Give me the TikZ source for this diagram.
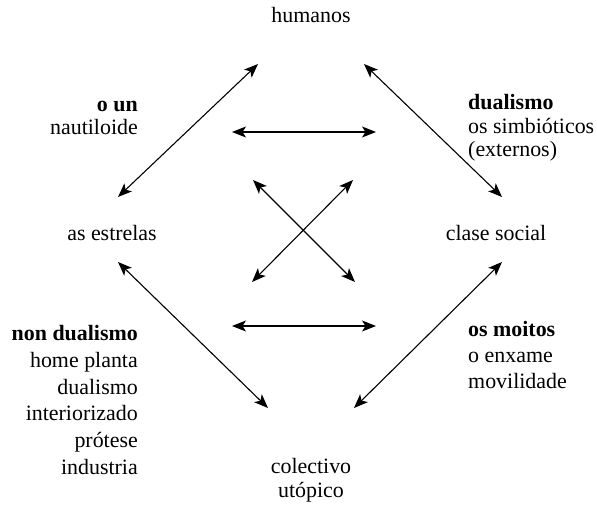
\documentclass[tikz,border=0pt]{standalone}
\usepackage{fontspec}
\setmainfont{Liberation Serif}
\usetikzlibrary{arrows.meta}
\begin{document}
\begin{tikzpicture}[x=1bp,y=-1bp,
  lbl/.style={inner sep=0pt, font=\fontsize{22}{23.5}\selectfont},
  arr/.style={{Stealth[length=14bp,width=11bp,inset=3.5bp]}-{Stealth[length=14bp,width=11bp,inset=3.5bp]}, line width=1.1bp}]
\useasboundingbox (0,0) rectangle (597,517);
\node[lbl] (hum) at (311,15) {humanos};
\node[lbl] (est) at (112,233) {as estrelas};
\node[lbl] (cla) at (496,233) {clase social};
\node[lbl, align=center, font=\fontsize{22}{24}\selectfont] (col) at (311,480) {colectivo\\utópico};
\node[lbl, align=right, anchor=east, font=\fontsize{22}{22.5}\selectfont] (oun) at (138,118) {\textbf{o un}\\nautiloide};
\node[lbl, align=left, anchor=west] (dua) at (468,128) {\textbf{dualismo}\\os simbióticos\\(externos)};
\node[lbl, align=right, anchor=east, font=\fontsize{22}{27}\selectfont] (non) at (138,400) {\textbf{non dualismo}\\home planta\\dualismo\\interiorizado\\prótese\\industria};
\node[lbl, align=left, anchor=west, font=\fontsize{22}{26.5}\selectfont] (moi) at (468,355) {\textbf{os moitos}\\o enxame\\movilidade};
\coordinate (a1) at (258,64);
\coordinate (a2) at (118,197);
\coordinate (b1) at (364,64);
\coordinate (b2) at (502,197);
\coordinate (c1) at (118,262);
\coordinate (c2) at (268,408);
\coordinate (d1) at (502,262);
\coordinate (d2) at (354,408);
\coordinate (h1) at (232,132);
\coordinate (h2) at (376,132);
\coordinate (g1) at (232,326);
\coordinate (g2) at (376,326);
\coordinate (x1) at (253,180);
\coordinate (x2) at (355,282);
\coordinate (y1) at (353,180);
\coordinate (y2) at (252,282);
\draw[arr] (a1) -- (a2);
\draw[arr] (b1) -- (b2);
\draw[arr] (c1) -- (c2);
\draw[arr] (d1) -- (d2);
\draw[arr] (h1) -- (h2);
\draw[arr] (g1) -- (g2);
\draw[arr] (x1) -- (x2);
\draw[arr] (y1) -- (y2);
\end{tikzpicture}
\end{document}
